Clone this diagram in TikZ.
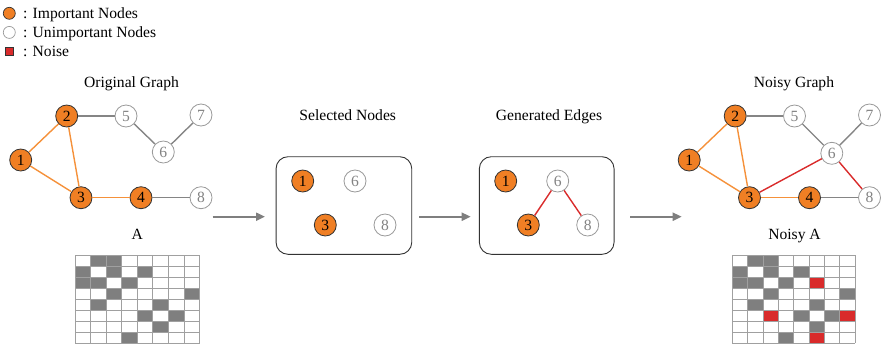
\documentclass[tikz,border=0pt]{standalone}
\usepackage{fontspec}
\setmainfont{Liberation Serif}
\usetikzlibrary{arrows.meta}
\definecolor{imp}{HTML}{F07F24}
\definecolor{impedge}{HTML}{F5913A}
\definecolor{noise}{HTML}{D92B2B}
\definecolor{cellgray}{HTML}{7F7F7F}
\definecolor{edgegray}{HTML}{858585}
\definecolor{unimp}{HTML}{9A9A9A}
\definecolor{gridc}{HTML}{A0A0A0}
\begin{document}
\begin{tikzpicture}[x=1pt,y=-1pt,
  font=\fontsize{15.6}{18}\selectfont,
  impnode/.style={circle,draw=black!80,fill=imp,minimum size=22pt,inner sep=0pt,line width=0.8pt,text=black},
  unnode/.style={circle,draw=unimp,fill=white,text=unimp!85!black,minimum size=22pt,inner sep=0pt,line width=0.8pt},
  legimp/.style={circle,draw=black!80,fill=imp,minimum size=12pt,inner sep=0pt,line width=0.7pt},
  legun/.style={circle,draw=unimp,fill=white,minimum size=12pt,inner sep=0pt,line width=0.7pt},
  legnoise/.style={rectangle,draw=black!80,fill=noise,minimum size=8pt,inner sep=0pt,line width=0.7pt},
  legtext/.style={anchor=base west,inner sep=0pt},
  oedge/.style={impedge,line width=1.4pt},
  gedge/.style={edgegray,line width=1.4pt},
  redge/.style={noise,line width=1.4pt},
  flow/.style={draw=cellgray,line width=2pt,-{Triangle[length=9pt,width=8pt]}},
  panel/.style={draw=black!80,rounded corners=12pt,line width=0.9pt},
  title/.style={anchor=base,inner sep=0pt},
]
\useasboundingbox (0,0) rectangle (886,346);

% legend
\node[legimp] (li) at (9.3,13.3) {};
\node[legun] (lu) at (9.3,32.4) {};
\node[legnoise] (ln) at (9.3,51) {};
\node[legtext] (lti) at (23,18.3) {: Important Nodes};
\node[legtext] (ltu) at (23,37.4) {: Unimportant Nodes};
\node[legtext] (ltn) at (23,56.5) {: Noise};

% original graph
\node[title] (tog) at (131.5,87.3) {Original Graph};
\node[impnode] (o1) at (20.7,160) {1};
\node[impnode] (o2) at (66.7,116) {2};
\node[impnode] (o3) at (81,197.7) {3};
\node[impnode] (o4) at (141,197.7) {4};
\node[unnode] (o5) at (126,116) {5};
\node[unnode] (o6) at (163.3,152) {6};
\node[unnode] (o7) at (201,115) {7};
\node[unnode] (o8) at (201,197.7) {8};
\draw[oedge] (o1) -- (o2);
\draw[oedge] (o1) -- (o3);
\draw[oedge] (o2) -- (o3);
\draw[oedge] (o3) -- (o4);
\draw[gedge] (o2) -- (o5);
\draw[gedge] (o5) -- (o6);
\draw[gedge] (o6) -- (o7);
\draw[gedge] (o4) -- (o8);

% matrix A
\node[title] (tA) at (137.3,239) {A};
\foreach \r/\c in {1/2,1/3,2/1,2/3,2/5,3/1,3/2,3/4,4/3,4/8,5/2,5/6,6/5,6/7,7/6,8/4}
  \fill[cellgray] ({75+(\c-1)*15.56},{255+(\r-1)*11}) rectangle ++(15.56,11);
\foreach \i in {0,...,8} {
  \draw[gridc,line width=0.8pt] ({75+\i*15.56},255) -- ++(0,88);
  \draw[gridc,line width=0.8pt] (75,{255+\i*11}) -- ++(124.5,0);
}

% selected nodes
\node[title] (tsel) at (347.7,120) {Selected Nodes};
\node[panel,minimum width=135.7pt,minimum height=97.6pt] (selbox) at (343.9,205.5) {};
\node[impnode] (s1) at (302.7,181) {1};
\node[unnode] (s6) at (355,181) {6};
\node[impnode] (s3) at (325.3,225) {3};
\node[unnode] (s8) at (385,225) {8};

% generated edges
\node[title] (tgen) at (549,120) {Generated Edges};
\node[panel,minimum width=134.7pt,minimum height=97.6pt] (genbox) at (546.7,205.5) {};
\node[impnode] (g1) at (505.7,181) {1};
\node[unnode] (g6) at (557.7,181) {6};
\node[impnode] (g3) at (528.3,225) {3};
\node[unnode] (g8) at (587.7,225) {8};
\draw[redge] (g3) -- (g6);
\draw[redge] (g6) -- (g8);

% flow arrows
\coordinate (a1s) at (212.7,216.7);
\coordinate (a1e) at (265,216.7);
\coordinate (a2s) at (419,216.7);
\coordinate (a2e) at (470.7,216.7);
\coordinate (a3s) at (630,216.7);
\coordinate (a3e) at (681.7,216.7);
\draw[flow] (a1s) -- (a1e);
\draw[flow] (a2s) -- (a2e);
\draw[flow] (a3s) -- (a3e);

% noisy graph
\node[title] (tng) at (794,87.3) {Noisy Graph};
\node[impnode] (n1) at (689.2,160) {1};
\node[impnode] (n2) at (735.2,116) {2};
\node[impnode] (n3) at (749.5,197.7) {3};
\node[impnode] (n4) at (809.5,197.7) {4};
\node[unnode] (n5) at (794.5,116) {5};
\node[unnode] (n6) at (831.8,153.3) {6};
\node[unnode] (n7) at (869.5,115) {7};
\node[unnode] (n8) at (869.5,197.7) {8};
\draw[oedge] (n1) -- (n2);
\draw[oedge] (n1) -- (n3);
\draw[oedge] (n2) -- (n3);
\draw[oedge] (n3) -- (n4);
\draw[gedge] (n2) -- (n5);
\draw[gedge] (n5) -- (n6);
\draw[gedge] (n6) -- (n7);
\draw[gedge] (n4) -- (n8);
\draw[redge] (n3) -- (n6);
\draw[redge] (n6) -- (n8);

% noisy A
\node[title] (tnA) at (794.5,239) {Noisy A};
\foreach \r/\c in {1/2,1/3,2/1,2/3,2/5,3/1,3/2,3/4,4/3,4/8,5/2,5/6,6/5,6/7,7/6,8/4}
  \fill[cellgray] ({732.3+(\c-1)*15.33},{255+(\r-1)*11}) rectangle ++(15.33,11);
\foreach \r/\c in {3/6,6/3,6/8,8/6}
  \fill[noise] ({732.3+(\c-1)*15.33},{255+(\r-1)*11}) rectangle ++(15.33,11);
\foreach \i in {0,...,8} {
  \draw[gridc,line width=0.8pt] ({732.3+\i*15.33},255) -- ++(0,88);
  \draw[gridc,line width=0.8pt] (732.3,{255+\i*11}) -- ++(122.64,0);
}
\end{tikzpicture}
\end{document}
